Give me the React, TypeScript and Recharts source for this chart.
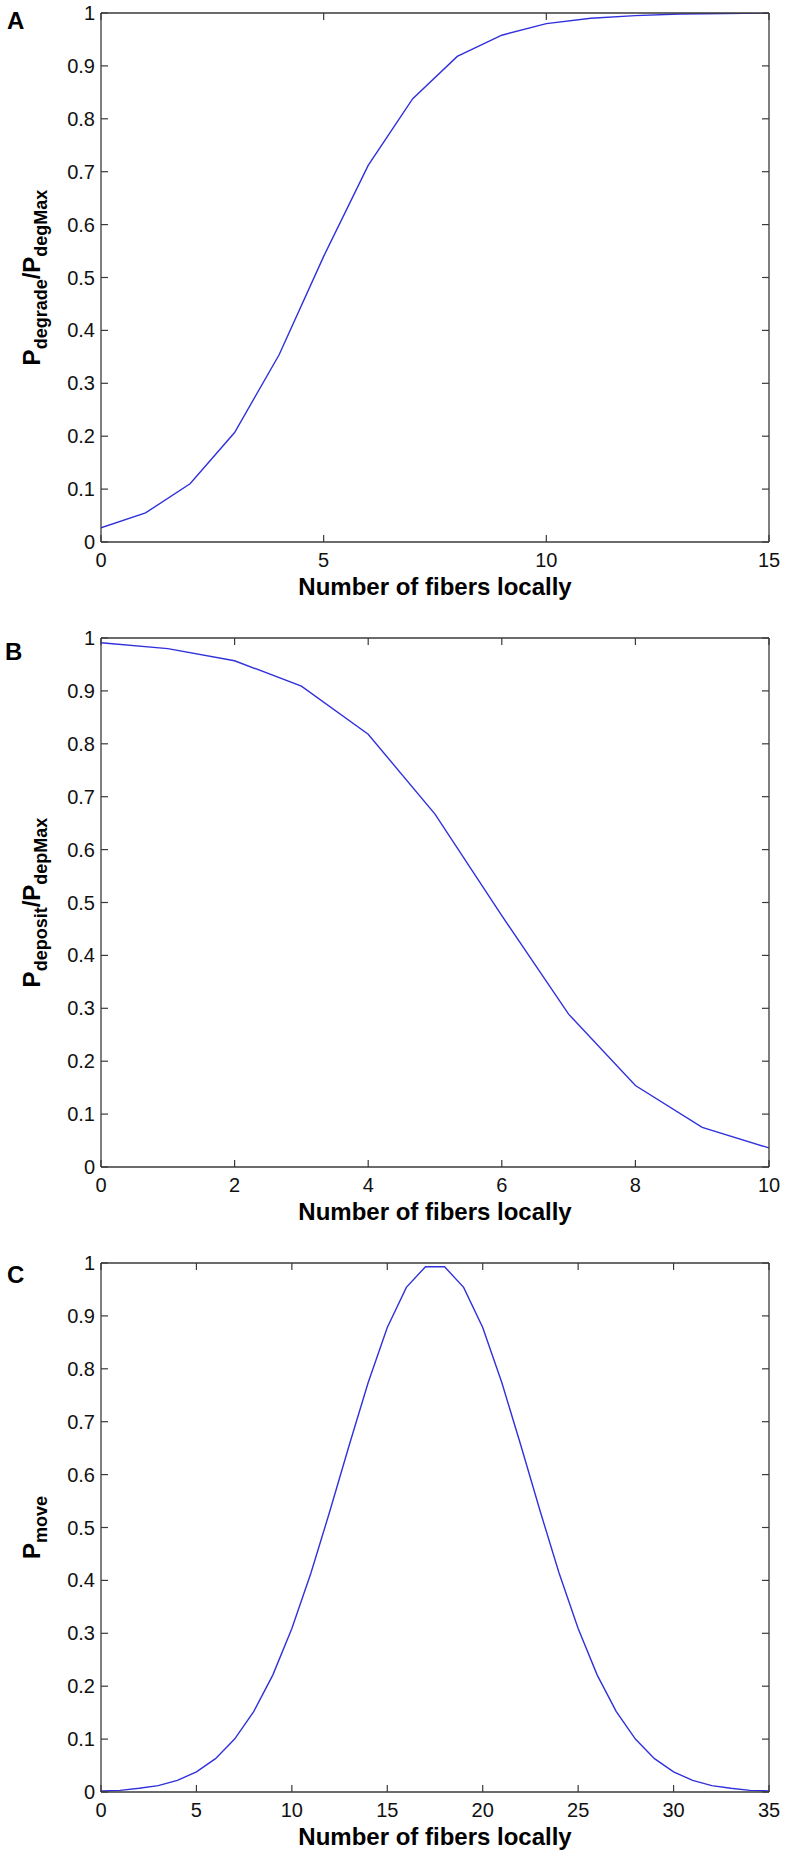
import React from "react";
import { LineChart, Line, XAxis, YAxis } from "recharts";

// ---- Data ----
const xA = [0, 1, 2, 3, 4, 5, 6, 7, 8, 9, 10, 11, 12, 13, 14, 15];
const yA = [0.027, 0.055, 0.11, 0.207, 0.354, 0.54, 0.712, 0.838, 0.918, 0.958, 0.98, 0.99, 0.995, 0.998, 0.999, 1.0];

const xB = [0, 1, 2, 3, 4, 5, 6, 7, 8, 9, 10];
const yB = [0.991, 0.98, 0.957, 0.909, 0.818, 0.667, 0.475, 0.289, 0.154, 0.075, 0.036];

const xC = [0, 1, 2, 3, 4, 5, 6, 7, 8, 9, 10, 11, 12, 13, 14, 15, 16, 17, 18, 19, 20, 21, 22, 23, 24, 25, 26, 27, 28, 29, 30, 31, 32, 33, 34, 35];
const yC = [0.002, 0.003, 0.007, 0.012, 0.022, 0.038, 0.063, 0.1, 0.152, 0.221, 0.309, 0.414, 0.532, 0.655, 0.774, 0.878, 0.954, 0.993, 0.993, 0.954, 0.878, 0.774, 0.655, 0.532, 0.414, 0.309, 0.221, 0.152, 0.1, 0.063, 0.038, 0.022, 0.012, 0.007, 0.003, 0.002];

const yTicks = [0, 0.1, 0.2, 0.3, 0.4, 0.5, 0.6, 0.7, 0.8, 0.9, 1];
const xTicksA = [0, 5, 10, 15];
const xTicksB = [0, 2, 4, 6, 8, 10];
const xTicksC = [0, 5, 10, 15, 20, 25, 30, 35];

const xTitle = "Number of fibers locally";

const labelA = [
  { t: "P", sub: false },
  { t: "degrade", sub: true },
  { t: "/P", sub: false },
  { t: "degMax", sub: true },
];
const labelB = [
  { t: "P", sub: false },
  { t: "deposit", sub: true },
  { t: "/P", sub: false },
  { t: "depMax", sub: true },
];
const labelC = [
  { t: "P", sub: false },
  { t: "move", sub: true },
];

// ---- Styles ----
const AXIS = "#3a3a3a";
const LINE = "#3030dc";
const FONT = "'Liberation Sans', Arial, Helvetica, sans-serif";
const TICK = 7;

const zip = (xs: number[], ys: number[]) => xs.map((x, i) => ({ x, y: ys[i] }));

const BottomTick = (p: any) => (
  <g>
    <line x1={p.x} x2={p.x} y1={p.y} y2={p.y - TICK} stroke={AXIS} strokeWidth={1.2} />
    <text x={p.x} y={p.y + 25} textAnchor="middle" fontSize={20} fontFamily={FONT} fill="#111">
      {String(p.payload.value)}
    </text>
  </g>
);
const TopTick = (p: any) => (
  <line x1={p.x} x2={p.x} y1={p.y} y2={p.y + TICK} stroke={AXIS} strokeWidth={1.2} />
);
const LeftTick = (p: any) => (
  <g>
    <line x1={p.x} x2={p.x + TICK} y1={p.y} y2={p.y} stroke={AXIS} strokeWidth={1.2} />
    <text x={p.x - 6} y={p.y + 7} textAnchor="end" fontSize={20} fontFamily={FONT} fill="#111">
      {String(p.payload.value)}
    </text>
  </g>
);
const RightTick = (p: any) => (
  <line x1={p.x} x2={p.x - TICK} y1={p.y} y2={p.y} stroke={AXIS} strokeWidth={1.2} />
);

type Seg = { t: string; sub: boolean };

function makeYLabel(segs: Seg[], letter: string, letterDx: number, letterDy: number) {
  return (props: any) => {
    const vb = props.viewBox || {};
    const cx = 40;
    const cy = vb.y + vb.height / 2;
    let prevSub = false;
    return (
      <g>
        <text x={letterDx} y={vb.y + letterDy} fontSize={24} fontWeight="bold" fontFamily={FONT} fill="#000">
          {letter}
        </text>
        <text
          x={cx}
          y={cy}
          transform={`rotate(-90, ${cx}, ${cy})`}
          textAnchor="middle"
          fontFamily={FONT}
          fontWeight="bold"
          fill="#000"
        >
          {segs.map((s, i) => {
            let dy = 0;
            if (s.sub && !prevSub) dy = 7;
            if (!s.sub && prevSub) dy = -7;
            prevSub = s.sub;
            return (
              <tspan key={i} dy={dy} fontSize={s.sub ? 18 : 24}>
                {s.t}
              </tspan>
            );
          })}
        </text>
      </g>
    );
  };
}

const XTitle = (props: any) => {
  const vb = props.viewBox || {};
  return (
    <text
      x={vb.x + vb.width / 2}
      y={vb.y + 53}
      textAnchor="middle"
      fontSize={24}
      fontWeight="bold"
      fontFamily={FONT}
      fill="#000"
    >
      {xTitle}
    </text>
  );
};

type PanelProps = {
  top: number;
  data: { x: number; y: number }[];
  xTicks: number[];
  xMax: number;
  segs: Seg[];
  letter: string;
  letterDx: number;
  letterDy: number;
};

function Panel({ top, data, xTicks, xMax, segs, letter, letterDx, letterDy }: PanelProps) {
  return (
    <div style={{ position: "absolute", left: 0, top, width: 788, height: 600 }}>
      <LineChart width={788} height={600} data={data} margin={{ top: 0, right: 0, bottom: 0, left: 0 }}>
        <XAxis
          xAxisId="b"
          dataKey="x"
          type="number"
          domain={[0, xMax]}
          ticks={xTicks}
          interval={0}
          allowDataOverflow
          orientation="bottom"
          height={58}
          tickSize={0}
          tickMargin={0}
          tickLine={false}
          axisLine={{ stroke: AXIS, strokeWidth: 1.3 }}
          tick={<BottomTick />}
          label={XTitle}
        />
        <XAxis
          xAxisId="t"
          dataKey="x"
          type="number"
          domain={[0, xMax]}
          ticks={xTicks}
          interval={0}
          allowDataOverflow
          orientation="top"
          height={13}
          tickSize={0}
          tickMargin={0}
          tickLine={false}
          axisLine={{ stroke: AXIS, strokeWidth: 1.3 }}
          tick={<TopTick />}
        />
        <YAxis
          yAxisId="l"
          type="number"
          domain={[0, 1]}
          ticks={yTicks}
          interval={0}
          allowDataOverflow
          orientation="left"
          width={101}
          tickSize={0}
          tickMargin={0}
          tickLine={false}
          axisLine={{ stroke: AXIS, strokeWidth: 1.3 }}
          tick={<LeftTick />}
          label={makeYLabel(segs, letter, letterDx, letterDy)}
        />
        <YAxis
          yAxisId="r"
          type="number"
          domain={[0, 1]}
          ticks={yTicks}
          interval={0}
          allowDataOverflow
          orientation="right"
          width={19}
          tickSize={0}
          tickMargin={0}
          tickLine={false}
          axisLine={{ stroke: AXIS, strokeWidth: 1.3 }}
          tick={<RightTick />}
        />
        <Line
          xAxisId="b"
          yAxisId="l"
          dataKey="y"
          type="linear"
          stroke={LINE}
          strokeWidth={1.4}
          dot={false}
          activeDot={false}
          isAnimationActive={false}
        />
      </LineChart>
    </div>
  );
}

export default function App() {
  return (
    <div
      style={{
        position: "absolute",
        left: 0,
        top: 0,
        width: 788,
        height: 1858,
        background: "#fff",
        overflow: "hidden",
      }}
    >
      <Panel top={0} data={zip(xA, yA)} xTicks={xTicksA} xMax={15} segs={labelA} letter="A" letterDx={7} letterDy={16} />
      <Panel top={625} data={zip(xB, yB)} xTicks={xTicksB} xMax={10} segs={labelB} letter="B" letterDx={5} letterDy={22} />
      <Panel top={1250} data={zip(xC, yC)} xTicks={xTicksC} xMax={35} segs={labelC} letter="C" letterDx={7} letterDy={20} />
    </div>
  );
}
